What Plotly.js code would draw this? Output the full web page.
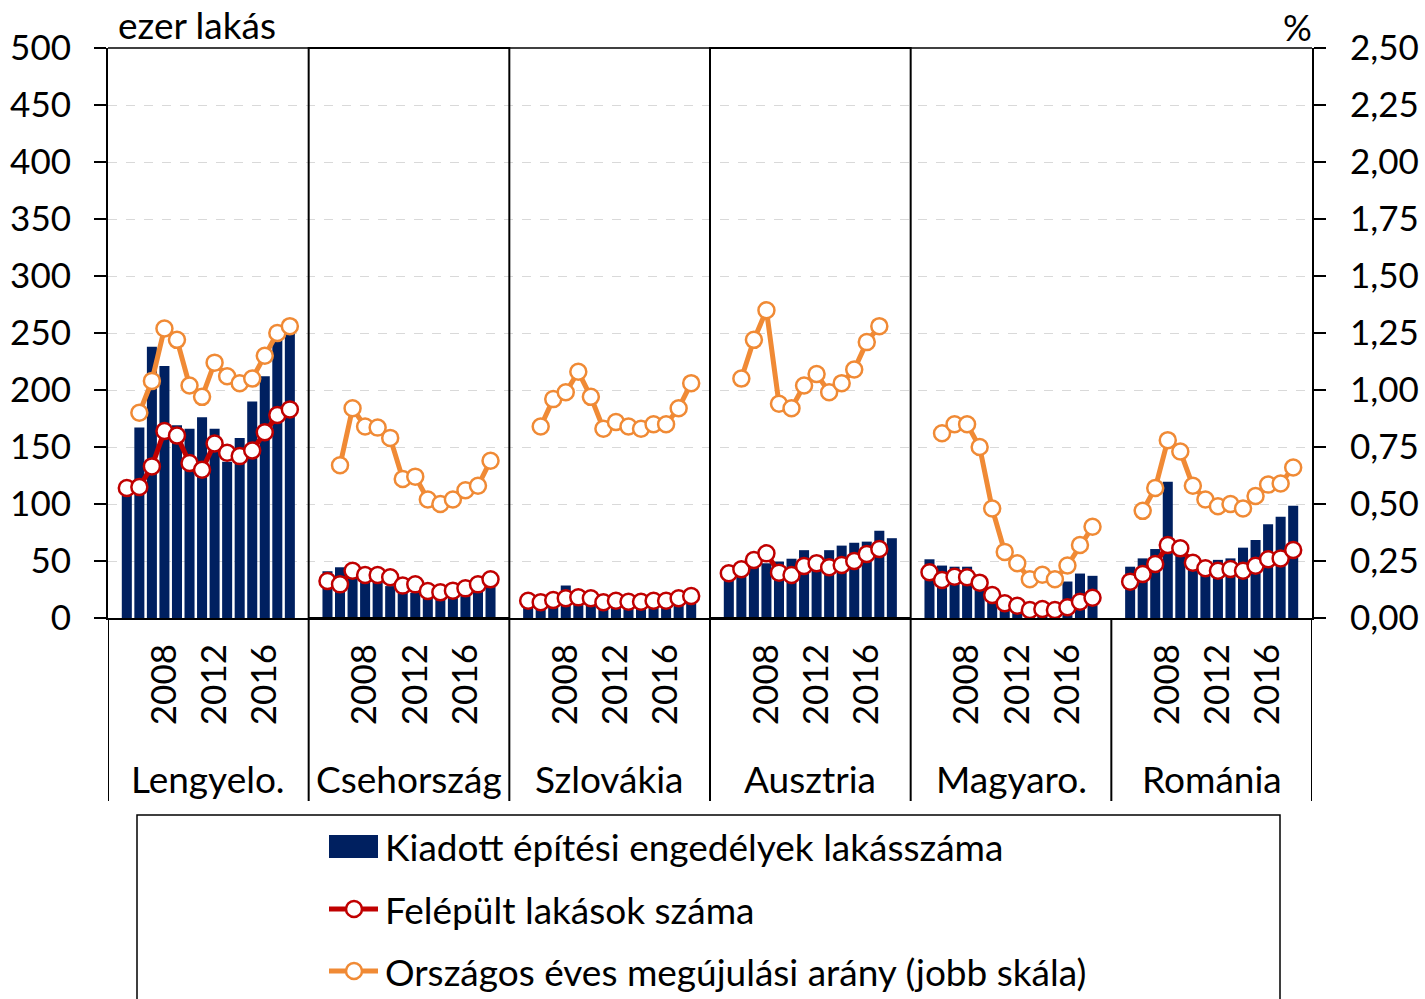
<!DOCTYPE html>
<html>
<head>
<meta charset="utf-8">
<script src="https://cdn.plot.ly/plotly-3.0.1.min.js"></script>
<style>
  html, body { margin: 0; padding: 0; background: #ffffff; }
  #chart { width: 1425px; height: 999px; }
</style>
</head>
<body>
<div id="chart"></div>
<script>
// ---------------- DATA ----------------
const years = [2005, 2006, 2007, 2008, 2009, 2010, 2011, 2012, 2013, 2014, 2015, 2016, 2017, 2018];
const countries = ['Lengyelo.', 'Csehország', 'Szlovákia', 'Ausztria', 'Magyaro.', 'Románia'];
const yearTicks = [2008, 2012, 2016];
const leftTicks = [0, 50, 100, 150, 200, 250, 300, 350, 400, 450, 500];

// Kiadott építési engedélyek lakásszáma (ezer lakás)
const permitsPL = [113, 167, 238, 221, 169, 166, 176, 166, 137, 158, 190, 212, 244, 250];
const permitsCZ = [41, 44.5, 43.5, 38, 35, 28, 26, 22, 20.5, 21, 22, 23, 26, 27.5];
const permitsSK = [19, 20.5, 20, 28.5, 20, 16, 13, 13, 14, 14, 15.5, 17, 18.5, 20];
const permitsAT = [36, 39, 45, 48, 49.5, 52, 59.5, 55, 59.5, 63.5, 66, 67, 76.5, 70];
const permitsHU = [51.5, 46, 45, 45, 29, 17.5, 12.5, 11, 7.5, 9.5, 12.5, 32, 39, 37];
const permitsRO = [45, 52.3, 60.5, 119.6, 55, 47, 44, 51, 52.3, 61.7, 68.4, 82.2, 88.9, 98.5];

// Felépült lakások száma (ezer lakás)
const builtPL = [114, 115, 133, 164, 160, 136, 130, 153, 145, 142, 147, 163, 178, 183];
const builtCZ = [32.5, 29.5, 41.5, 37.7, 37.7, 35.7, 28.4, 29.5, 23.7, 22.5, 24, 26, 29.5, 33.9];
const builtSK = [15.2, 13.8, 15.8, 17.3, 18.1, 17.3, 13.8, 15.2, 14.3, 14.3, 15.2, 15.2, 17.3, 19.3];
const builtAT = [39.2, 42.7, 50.9, 56.7, 39.8, 37.7, 45.6, 48, 44.5, 46.5, 50, 56.1, 60.5, null];
const builtHU = [40.1, 33.3, 36.2, 35.7, 31, 20.2, 12.9, 10.8, 7, 7.9, 7, 9.4, 14.3, 17.8];
const builtRO = [31.9, 38.6, 47.4, 64, 61.1, 48.5, 43.6, 41.5, 43, 41.5, 45.9, 51.5, 52.3, 59.6];

// Országos éves megújulási arány (%, jobb skála)
const renewPL = [null, 0.90, 1.04, 1.27, 1.22, 1.02, 0.97, 1.12, 1.06, 1.03, 1.05, 1.15, 1.25, 1.28];
const renewCZ = [null, 0.67, 0.92, 0.84, 0.835, 0.79, 0.61, 0.62, 0.52, 0.50, 0.52, 0.56, 0.58, 0.69];
const renewSK = [null, 0.84, 0.96, 0.99, 1.08, 0.97, 0.83, 0.86, 0.84, 0.83, 0.85, 0.85, 0.92, 1.03];
const renewAT = [null, 1.05, 1.22, 1.35, 0.94, 0.92, 1.02, 1.07, 0.99, 1.03, 1.09, 1.21, 1.28, null];
const renewHU = [null, 0.81, 0.85, 0.85, 0.75, 0.48, 0.29, 0.24, 0.17, 0.19, 0.17, 0.23, 0.32, 0.40];
const renewRO = [null, 0.47, 0.57, 0.78, 0.73, 0.58, 0.52, 0.49, 0.50, 0.48, 0.535, 0.585, 0.59, 0.66];

const seriesNames = ['Kiadott építési engedélyek lakásszáma', 'Felépült lakások száma', 'Országos éves megújulási arány (jobb skála)'];

// ---------------- BUILD ----------------
const permits = [permitsPL, permitsCZ, permitsSK, permitsAT, permitsHU, permitsRO];
const built = [builtPL, builtCZ, builtSK, builtAT, builtHU, builtRO];
const renew = [renewPL, renewCZ, renewSK, renewAT, renewHU, renewRO];

const SLOTS = 16; // 1 blank + 14 years + 1 blank per country
function build(list) {
  const xs = [], ys = [];
  list.forEach((arr, p) => {
    xs.push(p * SLOTS); ys.push(null);
    arr.forEach((v, k) => { xs.push(p * SLOTS + (years[k] - years[0] + 1)); ys.push(v); });
    xs.push(p * SLOTS + SLOTS - 1); ys.push(null);
  });
  return { xs, ys };
}
const P = build(permits), B = build(built), R = build(renew);

const tickvals = [], ticktext = [];
countries.forEach((c, p) => {
  yearTicks.forEach(y => { tickvals.push(p * SLOTS + (y - years[0] + 1)); ticktext.push(String(y)); });
});

const FONT = 'Lato, "Open Sans", sans-serif';
const NAVY = '#002060', RED = '#C00000', ORANGE = '#F08A35';

const traces = [
  { type: 'bar', x: P.xs, y: P.ys, name: seriesNames[0], marker: { color: NAVY, line: { width: 0 } }, hoverinfo: 'skip' },
  { type: 'scatter', mode: 'lines+markers', x: B.xs, y: B.ys, name: seriesNames[1], connectgaps: false,
    line: { color: RED, width: 5 }, marker: { symbol: 'circle', size: 16, color: '#ffffff', line: { color: RED, width: 2.5 } } },
  { type: 'scatter', mode: 'lines+markers', x: R.xs, y: R.ys, name: seriesNames[2], yaxis: 'y2', connectgaps: false,
    line: { color: ORANGE, width: 5 }, marker: { symbol: 'circle', size: 16, color: '#ffffff', line: { color: ORANGE, width: 2.5 } } }
];

const N = countries.length * SLOTS;
const XMIN = -0.5, XMAX = N - 0.5;
const BOTTOM = (618 - 801) / 570; // bottom of category separators (paper)
const shapes = [];
// panel separators below axis
for (let p = 0; p <= countries.length; p++) {
  const xv = p * SLOTS - 0.5;
  shapes.push({ type: 'line', xref: 'x', yref: 'paper', x0: xv, x1: xv, y0: 0, y1: BOTTOM, line: { color: '#000', width: 2 } });
}
// top line
shapes.push({ type: 'line', xref: 'x', yref: 'paper', x0: XMIN, x1: XMAX, y0: 1, y1: 1, line: { color: '#000', width: 1.5 } });
// boxes round Csehország and Ausztria
[1, 3].forEach(p => {
  shapes.push({ type: 'rect', xref: 'x', yref: 'paper', x0: p * SLOTS - 0.5, x1: (p + 1) * SLOTS - 0.5, y0: 0, y1: 1, line: { color: '#000', width: 2 }, fillcolor: 'rgba(0,0,0,0)' });
});

// legend (drawn)
const px = v => (v - 108) / 1204, py = v => (618 - v) / 570;
shapes.push({ type: 'rect', xref: 'paper', yref: 'paper', x0: px(137), x1: px(1280), y0: py(815), y1: py(1003), line: { color: '#000', width: 1.5 }, fillcolor: 'rgba(0,0,0,0)' });
shapes.push({ type: 'rect', xref: 'paper', yref: 'paper', x0: px(329), x1: px(378), y0: py(835), y1: py(858), line: { width: 0 }, fillcolor: NAVY });
[[909, RED], [971, ORANGE]].forEach(([yy, col]) => {
  shapes.push({ type: 'line', xref: 'paper', yref: 'paper', x0: px(329), x1: px(378), y0: py(yy), y1: py(yy), line: { color: col, width: 5 } });
  shapes.push({ type: 'circle', xref: 'paper', yref: 'paper', xsizemode: 'pixel', ysizemode: 'pixel', xanchor: px(354), yanchor: py(yy), x0: -8, x1: 8, y0: -8, y1: 8, line: { color: col, width: 2.5 }, fillcolor: '#ffffff' });
});

const annotations = [];
countries.forEach((c, p) => {
  annotations.push({ text: c, xref: 'x', yref: 'paper', x: p * SLOTS + (SLOTS - 1) / 2, y: py(778), xanchor: 'center', yanchor: 'middle', showarrow: false, font: { family: FONT, size: 37, color: '#000' } });
});
annotations.push({ text: 'ezer lakás', xref: 'paper', yref: 'paper', x: px(116), y: py(24), xanchor: 'left', yanchor: 'middle', showarrow: false, font: { family: FONT, size: 37, color: '#000' } });
annotations.push({ text: '%', xref: 'paper', yref: 'paper', x: px(1314), y: py(27), xanchor: 'right', yanchor: 'middle', showarrow: false, font: { family: FONT, size: 36, color: '#000' } });
[[846, 0], [909, 1], [971, 2]].forEach(([yy, i]) => {
  annotations.push({ text: seriesNames[i], xref: 'paper', yref: 'paper', x: px(383), y: py(yy), xanchor: 'left', yanchor: 'middle', showarrow: false, font: { family: FONT, size: 37, color: '#000' } });
});

const layout = {
  width: 1425, height: 999,
  margin: { l: 108, r: 113, t: 48, b: 381, pad: 0 },
  paper_bgcolor: '#ffffff', plot_bgcolor: '#ffffff',
  separators: ', ',
  showlegend: false,
  bargap: 0.2,
  font: { family: FONT, size: 35, color: '#000' },
  xaxis: {
    range: [XMIN, XMAX], tickmode: 'array', tickvals, ticktext, tickangle: -90,
    ticks: '', showgrid: false, zeroline: false, showline: true, linecolor: '#000', linewidth: 2,
    tickfont: { family: FONT, size: 35, color: '#000' }, ticklabelstandoff: 10, fixedrange: true
  },
  yaxis: {
    range: [0, 500], tickmode: 'array', tickvals: leftTicks, ticks: 'outside', ticklen: 12, tickwidth: 2, tickcolor: '#000',
    showline: true, linecolor: '#000', linewidth: 2, zeroline: false,
    showgrid: true, gridcolor: '#d9d9d9', griddash: 'dash', gridwidth: 1,
    tickfont: { family: FONT, size: 35, color: '#000' }, ticklabelstandoff: 16
  },
  yaxis2: {
    range: [0, 2.5], dtick: 0.25, tick0: 0, tickformat: '.2f', overlaying: 'y', side: 'right',
    ticks: 'outside', ticklen: 12, tickwidth: 2, tickcolor: '#000',
    showline: true, linecolor: '#000', linewidth: 2, zeroline: false, showgrid: false,
    tickfont: { family: FONT, size: 35, color: '#000' }, ticklabelstandoff: 17
  },
  shapes, annotations
};

Plotly.newPlot('chart', traces, layout, { staticPlot: true, displayModeBar: false });
</script>
</body>
</html>
